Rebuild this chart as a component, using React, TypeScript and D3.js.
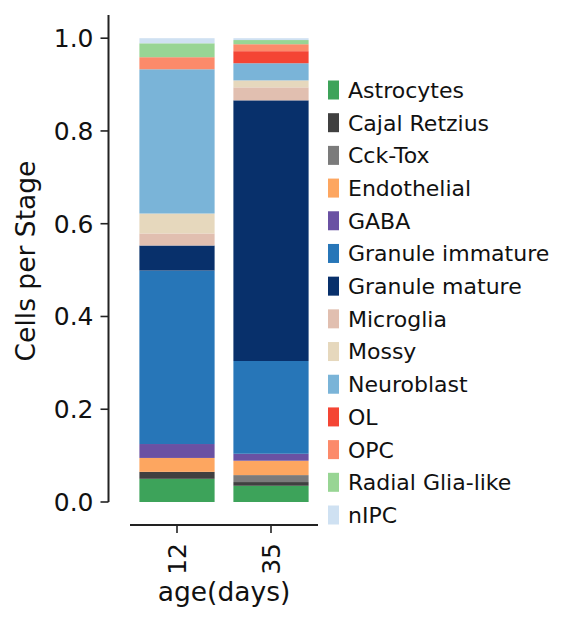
import * as d3 from "d3";

const stages = ["12", "35"];

const cellTypes = [
  "Astrocytes",
  "Cajal Retzius",
  "Cck-Tox",
  "Endothelial",
  "GABA",
  "Granule immature",
  "Granule mature",
  "Microglia",
  "Mossy",
  "Neuroblast",
  "OL",
  "OPC",
  "Radial Glia-like",
  "nIPC",
];

const typeColors = [
  "#3da35a",
  "#404040",
  "#7b7b7b",
  "#fda660",
  "#6a51a3",
  "#2776b8",
  "#08306b",
  "#e1bfb0",
  "#e6d8bd",
  "#7ab4d8",
  "#f44534",
  "#fc8a6a",
  "#98d594",
  "#cfe1f2",
];

// fraction of cells per type, same order as cellTypes
const day12 = [0.05, 0.015, 0, 0.03, 0.03, 0.374, 0.054, 0.026, 0.043, 0.311, 0, 0.026, 0.03, 0.011];
const day35 = [0.035, 0.008, 0.015, 0.031, 0.015, 0.2, 0.562, 0.028, 0.015, 0.037, 0.026, 0.015, 0.009, 0.004];

const yTicks = [0, 0.2, 0.4, 0.6, 0.8, 1.0];

const W = 567;
const H = 625;
const font = "DejaVu Sans";

export default function App() {
  const x = d3
    .scaleBand()
    .domain(stages)
    .range([130, 318])
    .paddingInner(0.2)
    .paddingOuter(0.1);
  const y = d3.scaleLinear().domain([0, 1.05]).range([502, 15]);

  const rows = stages.map((s, i) => {
    const vals = i === 0 ? day12 : day35;
    const r: any = { stage: s };
    cellTypes.forEach((c, j) => (r[c] = vals[j]));
    return r;
  });
  const series = d3.stack().keys(cellTypes)(rows);
  const color = d3.scaleOrdinal<string, string>().domain(cellTypes).range(typeColors);

  const legend = d3.scalePoint().domain(cellTypes).range([90, 515]);

  const ySpineX = 108.5;
  const xSpineY = 525;

  return (
    <svg
      width={W}
      height={H}
      style={{ position: "absolute", left: 0, top: 0, background: "#fff" }}
      fontFamily={font}
    >
      {series.map((s) => (
        <g key={s.key} fill={color(s.key)}>
          {s.map((d, i) => (
            <rect
              key={i}
              x={x(d.data.stage as any)}
              width={x.bandwidth()}
              y={y(d[1])}
              height={Math.max(0, y(d[0]) - y(d[1]))}
            />
          ))}
        </g>
      ))}

      {/* y axis */}
      <line x1={ySpineX} x2={ySpineX} y1={15} y2={502} stroke="#222" strokeWidth={2} />
      {yTicks.map((t) => (
        <g key={t}>
          <line x1={ySpineX - 8} x2={ySpineX} y1={y(t)} y2={y(t)} stroke="#222" strokeWidth={1.6} />
          <text x={93.5} y={y(t)} dy="0.36em" textAnchor="end" fontSize={25} fill="#111">
            {t.toFixed(1)}
          </text>
        </g>
      ))}
      <text
        x={35}
        y={261}
        transform="rotate(-90,35,261)"
        textAnchor="middle"
        fontSize={26.5}
        fill="#111"
      >
        Cells per Stage
      </text>

      {/* x axis */}
      <line x1={130} x2={318} y1={xSpineY} y2={xSpineY} stroke="#222" strokeWidth={2} />
      {stages.map((s) => {
        const cx = (x(s) as number) + x.bandwidth() / 2;
        return (
          <g key={s}>
            <line x1={cx} x2={cx} y1={xSpineY} y2={xSpineY + 8} stroke="#222" strokeWidth={1.6} />
            <text
              x={cx}
              y={543}
              dy="0.36em"
              transform={`rotate(-90,${cx},543)`}
              textAnchor="end"
              fontSize={25}
              fill="#111"
            >
              {s}
            </text>
          </g>
        );
      })}
      <text x={224} y={601} textAnchor="middle" fontSize={26.5} fill="#111">
        age(days)
      </text>

      {/* legend */}
      {cellTypes.map((c) => (
        <g key={c}>
          <rect x={328} y={(legend(c) as number) - 9.5} width={11} height={19} fill={color(c)} />
          <text x={348} y={legend(c)} dy="0.36em" fontSize={22} fill="#111">
            {c}
          </text>
        </g>
      ))}
    </svg>
  );
}
